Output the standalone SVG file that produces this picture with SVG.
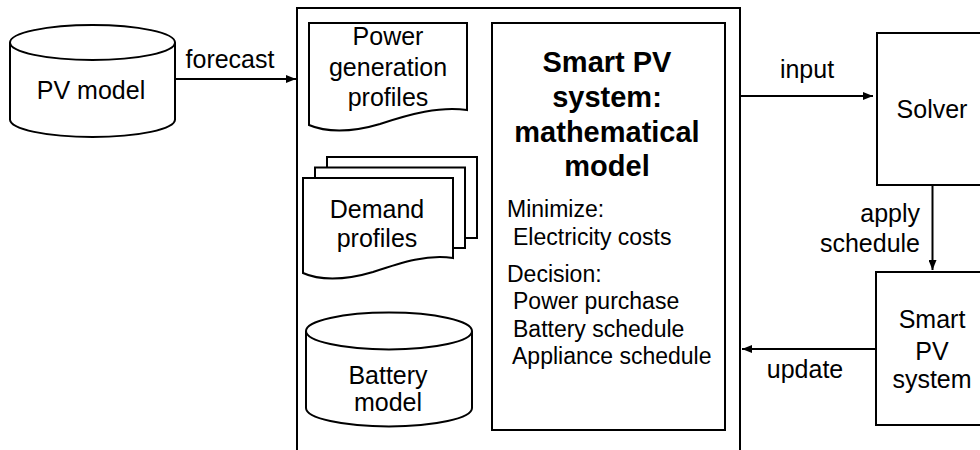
<svg xmlns="http://www.w3.org/2000/svg" width="980" height="450" viewBox="0 0 980 450">
  <style>
    .shape { fill: #ffffff; stroke: #000000; stroke-width: 2; }
    .line { fill: none; stroke: #000000; stroke-width: 2; }
    text { font-family: "Liberation Sans", Arial, sans-serif; fill: #000000; }
    .lbl { font-size: 25px; text-anchor: middle; }
    .end { font-size: 25px; text-anchor: end; }
    .bold { font-size: 29px; font-weight: bold; text-anchor: middle; }
    .list { font-size: 23px; }
  </style>
  <defs>
    <marker id="arrow" markerUnits="userSpaceOnUse" markerWidth="10" markerHeight="8" refX="10" refY="4" orient="auto">
      <path d="M0,0 L10,4 L0,8 Z" fill="#000000"/>
    </marker>
  </defs>

  <rect width="980" height="450" fill="#ffffff"/>

  <!-- PV model (data store) -->
  <g id="pv-model">
    <path class="shape" d="M10,42.5 V119.5 A82.5,17.5 0 0 0 175,119.5 V42.5"/>
    <ellipse class="shape" cx="92.5" cy="42.5" rx="82.5" ry="17.5"/>
    <text class="lbl" x="91" y="99">PV model</text>
  </g>

  <!-- Container of model inputs and formulation -->
  <g id="container">
    <rect class="shape" x="297" y="8" width="443" height="470"/>
  </g>

  <!-- Power generation profiles (document) -->
  <g id="power-profiles">
    <path class="shape" d="M309,23 H467 V110 C440,106 410,114 380,124 C350,133 325,132 309,125 Z"/>
    <text class="lbl" x="388" y="45">Power</text>
    <text class="lbl" x="388" y="76">generation</text>
    <text class="lbl" x="388" y="106">profiles</text>
  </g>

  <!-- Demand profiles (stacked documents) -->
  <g id="demand-profiles">
    <path class="shape" d="M327,167.5 V157 H477 V238 H465"/>
    <path class="shape" d="M315,178 V167.5 H465 V248 H453"/>
    <path class="shape" d="M303,178 H453 V258 C428,254 403,262 373,272 C343,281 318,280 303,273 Z"/>
    <text class="lbl" x="377" y="218">Demand</text>
    <text class="lbl" x="377" y="247">profiles</text>
  </g>

  <!-- Battery model (data store) -->
  <g id="battery-model">
    <path class="shape" d="M306,331 V408 A83,18.5 0 0 0 472,408 V331"/>
    <ellipse class="shape" cx="389" cy="331" rx="83" ry="18.5"/>
    <text class="lbl" x="388" y="384">Battery</text>
    <text class="lbl" x="388" y="411">model</text>
  </g>

  <!-- Mathematical model -->
  <g id="math-model">
    <rect class="shape" x="492" y="23" width="233" height="407"/>
    <text class="bold" x="607" y="72">Smart PV</text>
    <text class="bold" x="607" y="106.5">system:</text>
    <text class="bold" x="607" y="141.5">mathematical</text>
    <text class="bold" x="607" y="175.5">model</text>
    <text class="list" x="507" y="217">Minimize:</text>
    <text class="list" x="513" y="245">Electricity costs</text>
    <text class="list" x="507" y="282">Decision:</text>
    <text class="list" x="513" y="309">Power purchase</text>
    <text class="list" x="513" y="337">Battery schedule</text>
    <text class="list" x="512" y="364">Appliance schedule</text>
  </g>

  <!-- Solver -->
  <g id="solver">
    <rect class="shape" x="877" y="33" width="115" height="152"/>
    <text class="lbl" x="932" y="118">Solver</text>
  </g>

  <!-- Smart PV system -->
  <g id="smart-pv-system">
    <rect class="shape" x="876" y="272" width="116" height="153"/>
    <text class="lbl" x="932" y="328">Smart</text>
    <text class="lbl" x="932" y="360">PV</text>
    <text class="lbl" x="932" y="388">system</text>
  </g>

  <!-- Connectors -->
  <g id="connectors">
    <line class="line" x1="175" y1="79" x2="296" y2="79" marker-end="url(#arrow)"/>
    <text class="lbl" x="230" y="68">forecast</text>

    <line class="line" x1="741" y1="96" x2="873" y2="96" marker-end="url(#arrow)"/>
    <text class="lbl" x="807" y="78">input</text>

    <line class="line" x1="932.5" y1="185" x2="932.5" y2="270" marker-end="url(#arrow)"/>
    <text class="end" x="920" y="222">apply</text>
    <text class="end" x="920" y="252">schedule</text>

    <line class="line" x1="876" y1="349" x2="742" y2="349" marker-end="url(#arrow)"/>
    <text class="lbl" x="805" y="378">update</text>
  </g>
</svg>
